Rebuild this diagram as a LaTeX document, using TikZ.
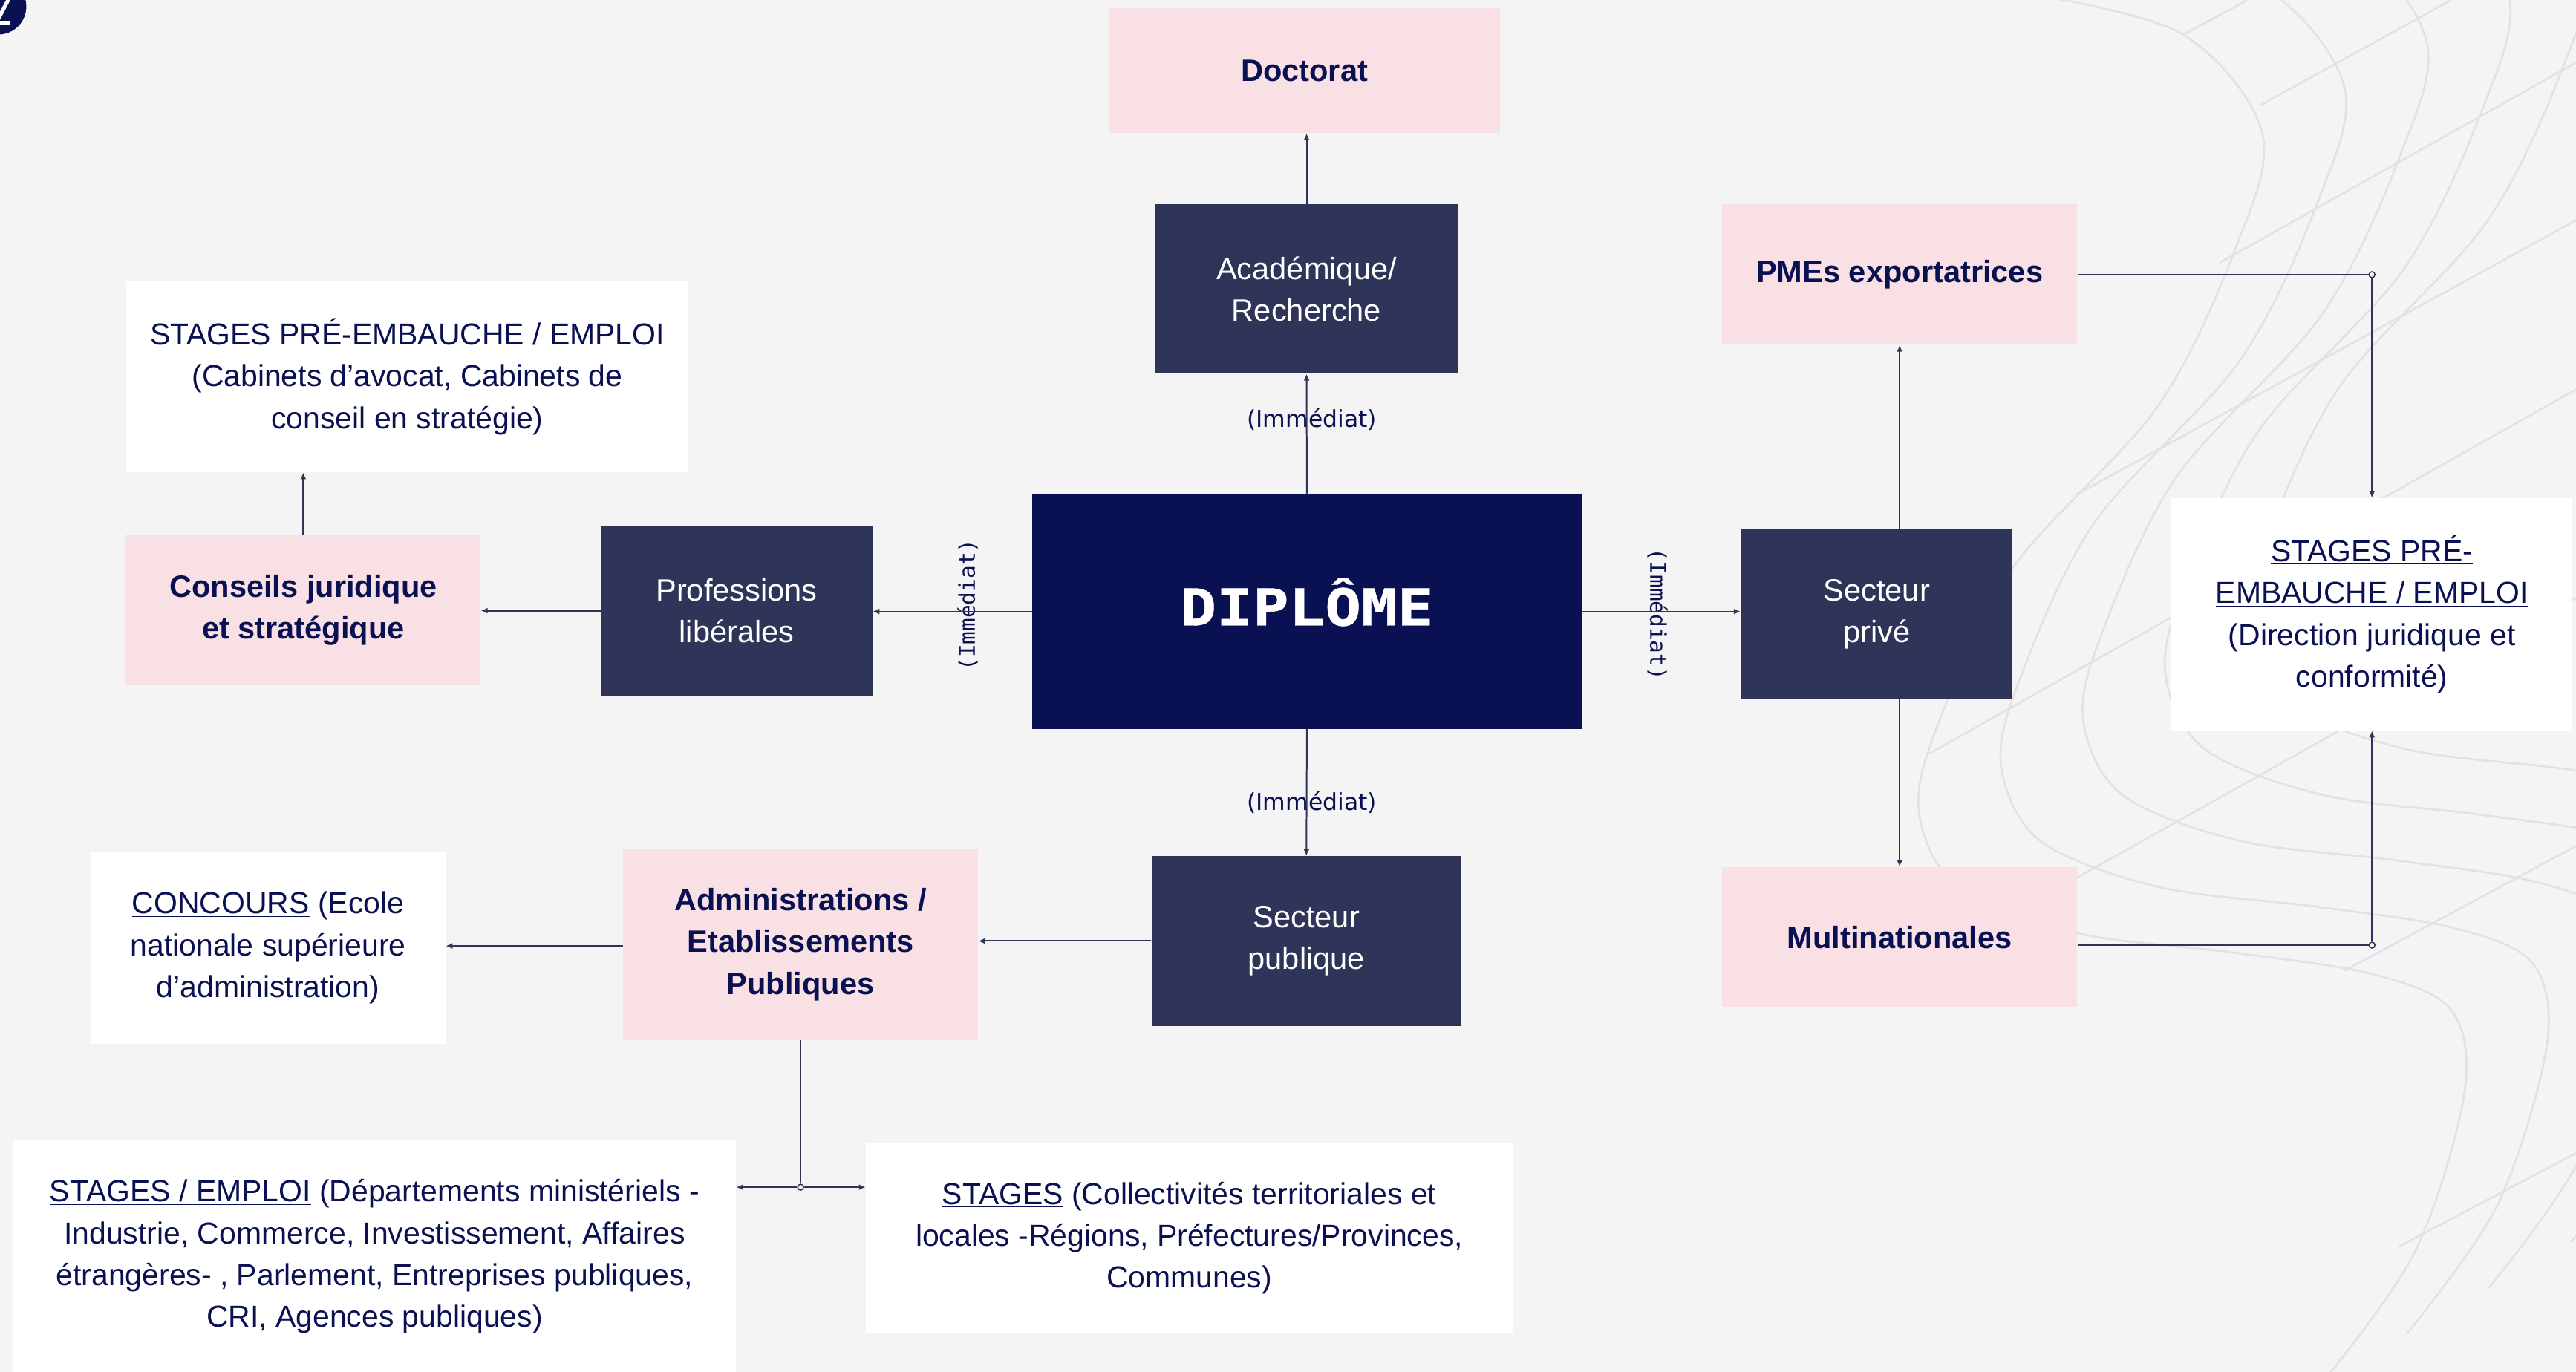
\documentclass[tikz,border=0pt]{standalone}
\usepackage{fontspec}
\setmainfont{Liberation Sans}
\newfontfamily\dejavu{DejaVu Sans}
\newfontfamily\dejamono{DejaVu Sans Mono}
\newfontfamily\dipfont{DejaVu Sans Mono}[BoldFeatures={FakeBold=0.6}]
\usetikzlibrary{arrows.meta,calc}
\definecolor{bgc}{HTML}{F4F4F4}
\definecolor{navy}{HTML}{0A1152}
\definecolor{slate}{HTML}{2F3459}
\definecolor{pinkc}{HTML}{F8E0E4}
\definecolor{wave}{HTML}{E1E1E6}
\newcommand\undl[1]{\underline{#1}}
\begin{document}
\begin{tikzpicture}[x=1pt,y=-1pt,
  boxbase/.style={rectangle, inner sep=0pt, align=center},
  pinkbox/.style={boxbase, fill=pinkc, text=navy, font={\fontsize{18.8}{25.5}\selectfont\bfseries}},
  darkbox/.style={boxbase, fill=slate, text=white, font={\fontsize{18.8}{25.5}\selectfont}},
  whitebox/.style={boxbase, fill=white, text=navy, font={\fontsize{18.5}{25.5}\selectfont}},
  dipbox/.style={boxbase, fill=navy, text=white, text height=20pt, text depth=3pt},
  conn/.style={draw=slate, line width=0.9pt, -{Latex[length=4pt,width=3.6pt]}},
  plainline/.style={draw=slate, line width=0.9pt},
  lblh/.style={text=navy, font={\dejavu\fontsize{14.2}{16}\selectfont}, inner sep=0pt},
  lblv/.style={text=navy, font={\dejamono\fontsize{13.3}{15}\selectfont}, inner sep=0pt},
  jdot/.style={circle, draw=slate, fill=bgc, line width=0.7pt, minimum size=3.6pt, inner sep=0pt},
  waveline/.style={draw=wave, line width=1.2pt},
]
\useasboundingbox (0,0) rectangle (1568,835.3);
\fill[bgc] (0,0) rectangle (1568,835.3);

% background pattern
\begin{scope}
\clip (0,0) rectangle (1568,835.3);
\foreach \k in {0,...,4}{
  \draw[waveline, shift={(\k*50,-\k*28)}] plot[smooth, tension=0.55] coordinates {
    (1228,-5) (1327,20) (1377,81) (1360,153) (1313,248) (1225,346) (1180,440)
    (1168,494) (1192,540) (1264,568) (1360,580) (1444,593) (1492,615)
    (1500,666) (1470,762) (1415,840)};
}
\draw[waveline] (1329,21) -- (1368,0);
\draw[waveline] (1376,64) -- (1492,0);
\draw[waveline] (1351,160) -- (1570,37);
\draw[waveline] (1264,301) -- (1570,133);
\draw[waveline] (1174,459) -- (1570,236);
\draw[waveline] (1263,535) -- (1570,363);
\draw[waveline] (1427,591) -- (1570,514);
\draw[waveline] (1460,759) -- (1570,701);
% corner badge
\fill[navy] (-1,4) circle[radius=17];
\draw[white, line width=2.3pt] (-1,11.5) -- (5.5,-1);
\fill[white] (0,12.8) rectangle (5.7,15.4);
\end{scope}

% nodes
\node[pinkbox, minimum width=238pt, minimum height=76pt] (doc) at (794,43) {Doctorat};
\node[darkbox, minimum width=184pt, minimum height=103pt] (acad) at (795.3,176) {Académique/\\Recherche};
\node[dipbox, minimum width=334.4pt, minimum height=142.7pt] (dip) at (795.5,372.3)
  {\scalebox{1.18}[1]{\dipfont\bfseries\fontsize{31}{31}\selectfont DIPLÔME}};
\node[darkbox, minimum width=188.5pt, minimum height=103.4pt] (pub) at (795.2,572.9) {Secteur\\publique};
\node[pinkbox, minimum width=216pt, minimum height=116.5pt] (admin) at (487.3,575) {Administrations /\\Etablissements\\Publiques};
\node[whitebox, minimum width=216pt, minimum height=116.5pt] (conc) at (163.2,577.1) {\undl{CONCOURS} (Ecole\\nationale supérieure\\d’administration)};
\node[pinkbox, minimum width=216pt, minimum height=91.4pt] (cons) at (184.6,371.5) {Conseils juridique\\et stratégique};
\node[darkbox, minimum width=165.4pt, minimum height=103.5pt] (prof) at (448.4,371.8) {Professions\\libérales};
\node[whitebox, minimum width=342.2pt, minimum height=116.6pt] (st1) at (247.9,229.2) {\undl{STAGES PRÉ-EMBAUCHE / EMPLOI}\\(Cabinets d’avocat, Cabinets de\\conseil en stratégie)};
\node[pinkbox, minimum width=216.2pt, minimum height=85.4pt] (pme) at (1156.3,167.2) {PMEs exportatrices};
\node[darkbox, minimum width=165.5pt, minimum height=103.2pt] (priv) at (1142.3,373.9) {Secteur\\privé};
\node[whitebox, minimum width=244pt, minimum height=141.5pt] (st2) at (1443.8,374) {\undl{STAGES PRÉ-}\\\undl{EMBAUCHE / EMPLOI}\\(Direction juridique et\\conformité)};
\node[pinkbox, minimum width=216.2pt, minimum height=85.2pt] (mult) at (1156.3,570.5) {Multinationales};
\node[whitebox, minimum width=440pt, minimum height=142pt] (st3) at (228,765)
  {\undl{STAGES / EMPLOI} (Départements ministériels -\\Industrie, Commerce, Investissement, Affaires\\étrangères- , Parlement, Entreprises publiques,\\CRI, Agences publiques)};
\node[whitebox, minimum width=393.7pt, minimum height=116.4pt] (st4) at (723.9,753.8)
  {\undl{STAGES} (Collectivités territoriales et\\locales -Régions, Préfectures/Provinces,\\Communes)};

% labels
\node[lblh] (lab1) at (798.5,255.5) {(Immédiat)};
\node[lblh] (lab2) at (798.5,488.5) {(Immédiat)};
\node[lblv, rotate=90] (lab3) at (589,368.4) {(Immédiat)};
\node[lblv, rotate=-90] (lab4) at (1009,374) {(Immédiat)};

% connectors
\draw[conn] (dip.north) -- (acad.south);
\draw[conn] (acad.north) -- (acad.north |- doc.south);
\draw[conn] (dip.west) -- (dip.west -| prof.east);
\draw[conn] (prof.west) -- (prof.west -| cons.east);
\draw[conn] (cons.north) -- (cons.north |- st1.south);
\draw[conn] (dip.east) -- (dip.east -| priv.west);
\draw[conn] (pme.south |- priv.north) -- (pme.south);
\draw[conn] (mult.north |- priv.south) -- (mult.north);
\draw[conn] (dip.south) -- (pub.north);
\draw[conn] (pub.west) -- (pub.west -| admin.east);
\draw[conn] (admin.west |- 0,575.9) -- (conc.east |- 0,575.9);

\node[jdot] (c1) at (pme.east -| st2.north) {};
\draw[plainline] (pme.east) -- (c1);
\draw[conn] (c1) -- (st2.north);
\node[jdot] (c2) at ([yshift=-4.9pt]mult.east -| st2.south) {};
\draw[plainline] ([yshift=-4.9pt]mult.east) -- (c2);
\draw[conn] (c2) -- (st2.south);

\node[jdot] (j) at (admin.south |- 0,722.8) {};
\draw[plainline] (admin.south) -- (j);
\draw[conn] (j) -- (j -| st3.east);
\draw[conn] (j) -- (j -| st4.west);
\end{tikzpicture}
\end{document}
